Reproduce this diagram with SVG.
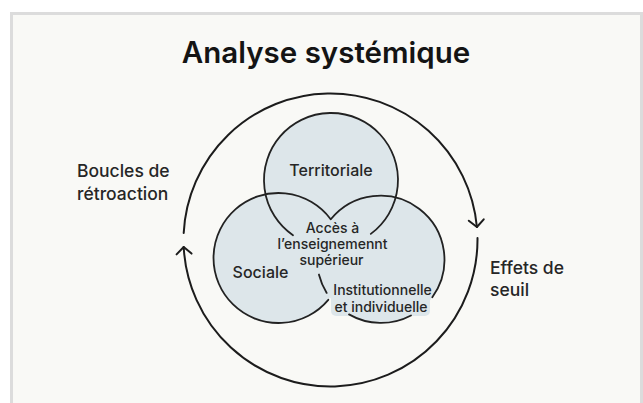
<svg xmlns="http://www.w3.org/2000/svg" width="643" height="403" viewBox="0 0 643 403">
  <style>
    .frame { fill: #f9f9f6; stroke: #dcdcdc; stroke-width: 3; }
    .fill { fill: #dde6ea; stroke: none; }
    .outline { fill: none; stroke: #222; stroke-width: 1.8; stroke-linecap: round; }
    .cycle { fill: none; stroke: #1c1c1c; stroke-width: 2; stroke-linecap: round; }
    .title { font-family: Inter, "Liberation Sans", sans-serif; font-weight: 600; font-size: 29.5px; fill: #141414; text-anchor: middle; }
    .lbl { font-family: Inter, "Liberation Sans", sans-serif; font-weight: 500; font-size: 16px; fill: #262626; text-anchor: middle; }
    .small { font-size: 14px; }
    .side { font-family: Inter, "Liberation Sans", sans-serif; font-weight: 500; font-size: 17.5px; fill: #262626; }
  </style>
  <defs>
    <marker id="chev" markerUnits="userSpaceOnUse" markerWidth="20" markerHeight="20" viewBox="-10 -10 20 20" refX="0" refY="0" orient="auto">
      <path d="M-7,-7.5 L0,0 L-7,7.5" fill="none" stroke="#1c1c1c" stroke-width="2" stroke-linecap="round" stroke-linejoin="round"/>
    </marker>
  </defs>

  <rect width="643" height="403" fill="#ffffff"/>
  <rect class="frame" x="11.5" y="13.5" width="630" height="420"/>

  <text class="title" x="326" y="63">Analyse systémique</text>

  <!-- outer feedback cycle -->
  <g id="connectors">
    <path class="cycle" d="M183.7,233 A147,147 0 0 1 476.9,227" marker-end="url(#chev)"/>
    <path class="cycle" d="M477.5,238 A147,147 0 0 1 183.7,247" marker-end="url(#chev)"/>
  </g>

  <!-- venn fills -->
  <g id="venn-fills">
    <circle class="fill" cx="331" cy="180" r="67"/>
    <circle class="fill" cx="278.5" cy="258" r="65"/>
    <circle class="fill" cx="381" cy="259" r="64"/>
    <rect class="fill" x="331" y="283" width="99" height="33" rx="5"/>
  </g>

  <!-- venn outlines -->
  <g id="venn-outlines">
    <path class="outline" d="M293,235.2 A67,67 0 1 1 370.8,233.9"/>
    <path class="outline" d="M328.3,299.8 A65,65 0 1 1 330.5,219"/>
    <path class="outline" d="M330.8,219.3 A64,64 0 0 1 432.3,297.2"/>
    <path class="outline" d="M411,315.5 A64,64 0 0 1 349,314.4"/>
    <path class="outline" d="M326.7,292.9 A64,64 0 0 1 318.9,274.5"/>
  </g>

  <g id="node-territoriale">
    <text class="lbl" x="331" y="176">Territoriale</text>
  </g>
  <g id="node-sociale">
    <text class="lbl" x="260.5" y="278">Sociale</text>
  </g>
  <g id="node-institutionnelle">
    <text class="lbl small" x="382.5" y="295">Institutionnelle</text>
    <text class="lbl small" x="381" y="311.5">et individuelle</text>
  </g>
  <g id="node-acces">
    <text class="lbl small" x="332.5" y="233">Accès à</text>
    <text class="lbl small" x="332.5" y="249">l’enseignemennt</text>
    <text class="lbl small" x="331.5" y="265">supérieur</text>
  </g>
  <g id="node-boucles">
    <text class="side" x="77" y="177">Boucles de</text>
    <text class="side" x="77" y="200">rétroaction</text>
  </g>
  <g id="node-effets">
    <text class="side" x="490" y="274">Effets de</text>
    <text class="side" x="490" y="296">seuil</text>
  </g>
</svg>
